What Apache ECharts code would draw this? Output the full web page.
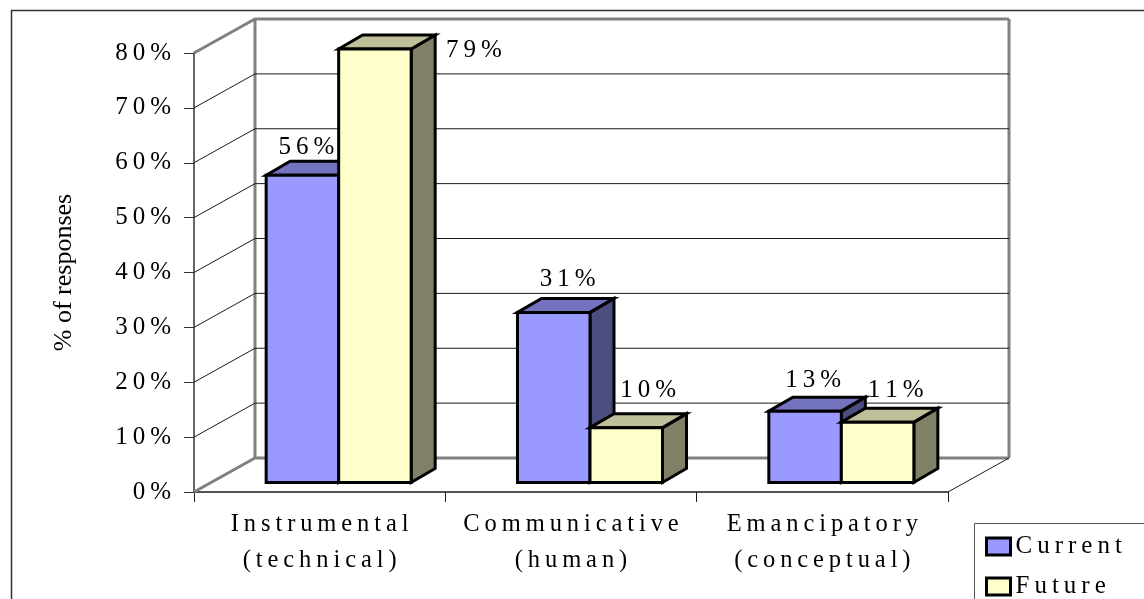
<!DOCTYPE html>
<html>
<head>
<meta charset="utf-8">
<style>html,body{margin:0;padding:0;background:#fff}#chart{width:1144px;height:599px}</style>
<script src="https://cdn.jsdelivr.net/npm/echarts@6/dist/echarts.min.js"></script>
</head>
<body>
<div id="chart"></div>
<script>
const categories = ['Instrumental\n(technical)', 'Communicative\n(human)', 'Emancipatory\n(conceptual)'];
const currentValues = [56, 31, 13];
const futureValues = [79, 10, 11];
const yTicks = [0, 10, 20, 30, 40, 50, 60, 70, 80];

const serif = '"Liberation Serif", "Times New Roman", serif';
const wallDepth = [61, -34];
const barDepth = [24, -14];
const barShift = [19, -9.5];
const barRatio = 0.2885;
// hand-placed data labels from the original, [dx, dy] from the bar's front top centre
const labelNudge = [
    [[4, -28], [99, 1]],
    [[14, -33], [22, -37]],
    [[8, -31], [18, -32]]
];
const fills = [
    { front: '#9999ff', top: '#7373bf', side: '#4d4d80' },
    { front: '#ffffcc', top: '#bfbf99', side: '#808066' }
];

// the original has wide tracking, canvas text has no letter-spacing here
const spaced = s => s.split('\n').map(l => l.split('').join('\u2009')).join('\n');

const chart = echarts.init(document.getElementById('chart'), null, { renderer: 'canvas' });

function renderWalls(params, api) {
    const box = params.coordSys;
    const v = api.value(1);
    const y = api.coord([0, v])[1];
    const x0 = box.x, x1 = box.x + box.width;
    const bx0 = x0 + wallDepth[0], bx1 = x1 + wallDepth[0], by = y + wallDepth[1];
    const children = [];
    const isEdge = v === yTicks[0] || v === yTicks[yTicks.length - 1];
    const style = isEdge
        ? { stroke: '#808080', lineWidth: 3, fill: null }
        : { stroke: '#1a1a1a', lineWidth: 1, fill: null };
    children.push({ type: 'polyline', shape: { points: [[x0, y], [bx0, by], [bx1, by]] }, style });
    if (v === yTicks[0]) {
        children.push({ type: 'line', shape: { x1: x1, y1: y, x2: bx1, y2: by }, style: { stroke: '#1a1a1a', lineWidth: 1 } });
        children.push({ type: 'line', shape: { x1: bx0, y1: by, x2: bx0, y2: by - box.height }, style: { stroke: '#808080', lineWidth: 3 } });
        children.push({ type: 'line', shape: { x1: bx1, y1: by, x2: bx1, y2: by - box.height }, style: { stroke: '#808080', lineWidth: 3 } });
    }
    return { type: 'group', children };
}

function renderBar(params, api) {
    const si = params.seriesIndex - 1;
    const cat = api.value(0);
    const val = api.value(1);
    const bandWidth = api.size([1, 0])[0];
    const w = bandWidth * barRatio;
    const c = api.coord([cat, val]);
    const base = api.coord([cat, 0]);
    const left = c[0] - w + si * w + barShift[0];
    const right = left + w;
    const top = c[1] + barShift[1];
    const bottom = base[1] + barShift[1];
    const dx = barDepth[0], dy = barDepth[1];
    const line = { stroke: '#000', lineWidth: 3, lineJoin: 'miter' };
    const col = fills[si];
    const nudge = labelNudge[cat][si];
    return {
        type: 'group',
        children: [
            { type: 'polygon', shape: { points: [[right, top], [right + dx, top + dy], [right + dx, bottom + dy], [right, bottom]] }, style: Object.assign({ fill: col.side }, line) },
            { type: 'polygon', shape: { points: [[left, top], [left + dx, top + dy], [right + dx, top + dy], [right, top]] }, style: Object.assign({ fill: col.top }, line) },
            { type: 'rect', shape: { x: left, y: top, width: w, height: bottom - top }, style: Object.assign({ fill: col.front }, line) },
            {
                type: 'text',
                z2: 100,
                style: {
                    text: spaced(val + '%'),
                    x: left + w / 2 + nudge[0],
                    y: top + nudge[1],
                    textAlign: 'center',
                    textVerticalAlign: 'middle',
                    font: '25px ' + serif,
                    fill: '#000'
                }
            }
        ]
    };
}

const option = {
    animation: false,
    backgroundColor: '#fff',
    grid: { left: 194, top: 53, width: 754, height: 439 },
    xAxis: {
        type: 'category',
        data: categories,
        axisLine: { lineStyle: { color: '#1a1a1a', width: 1.5 } },
        axisTick: { show: true, length: 10, alignWithLabel: false, lineStyle: { color: '#1a1a1a' } },
        axisLabel: {
            interval: 0,
            margin: 15,
            color: '#000',
            fontFamily: serif,
            fontSize: 24.5,
            lineHeight: 36,
            formatter: spaced
        },
        splitLine: { show: false }
    },
    yAxis: {
        type: 'value',
        min: 0,
        max: 80,
        interval: 10,
        name: '% of responses',
        nameLocation: 'middle',
        nameRotate: 90,
        nameGap: 117,
        nameTextStyle: { color: '#000', fontFamily: serif, fontSize: 26 },
        axisLine: { show: true, lineStyle: { color: '#333', width: 1.5 } },
        axisTick: { show: true, length: 10, lineStyle: { color: '#333' } },
        axisLabel: {
            margin: 23,
            color: '#000',
            fontFamily: serif,
            fontSize: 25,
            padding: [5, 0, 0, 0],
            formatter: v => spaced(v + '%')
        },
        splitLine: { show: false }
    },
    legend: {
        orient: 'vertical',
        left: 985,
        top: 534,
        height: 200,
        padding: 0,
        itemGap: 15,
        itemWidth: 24,
        itemHeight: 17,
        icon: 'rect',
        itemStyle: { borderColor: '#000', borderWidth: 3 },
        textStyle: { color: '#000', fontFamily: serif, fontSize: 25 },
        formatter: spaced,
        data: ['Current', 'Future']
    },
    graphic: [
        { type: 'rect', silent: true, z: -1, shape: { x: 11.5, y: 10.5, width: 1200, height: 700 }, style: { fill: null, stroke: '#333', lineWidth: 1.5 } },
        { type: 'rect', silent: true, z: -1, shape: { x: 974.5, y: 523.5, width: 300, height: 200 }, style: { fill: '#fff', stroke: '#555', lineWidth: 1 } }
    ],
    series: [
        {
            name: 'walls',
            type: 'custom',
            z: 1,
            silent: true,
            renderItem: renderWalls,
            data: yTicks.map(t => [0, t])
        },
        {
            name: 'Current',
            type: 'custom',
            z: 3,
            renderItem: renderBar,
            itemStyle: { color: fills[0].front },
            data: currentValues.map((v, i) => [i, v])
        },
        {
            name: 'Future',
            type: 'custom',
            z: 3,
            renderItem: renderBar,
            itemStyle: { color: fills[1].front },
            data: futureValues.map((v, i) => [i, v])
        }
    ]
};

chart.setOption(option);
</script>
</body>
</html>
